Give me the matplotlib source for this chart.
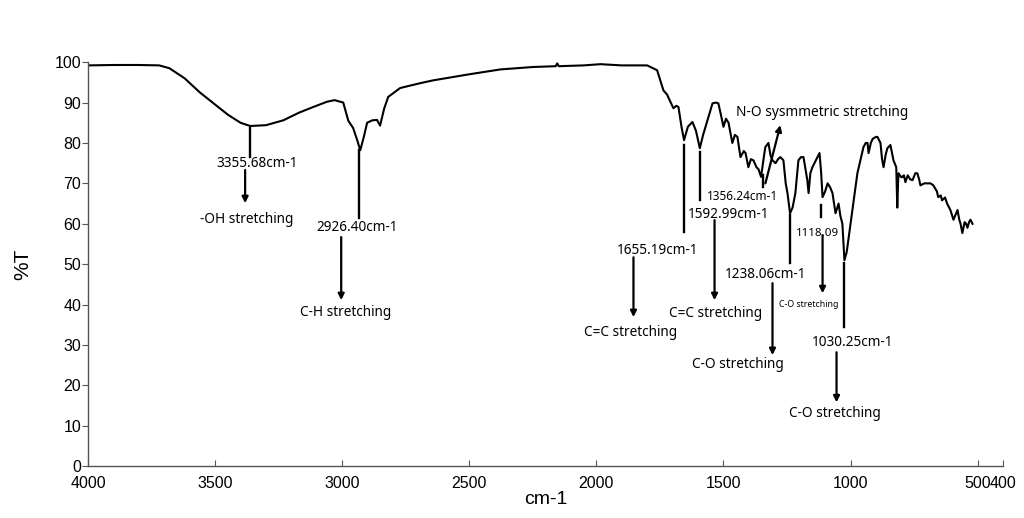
import numpy as np
import matplotlib
matplotlib.use("Agg")
from matplotlib import pyplot as plt

# FTIR spectrum, wavenumber (cm-1) vs transmittance (%T)
wavenumber = [4000, 3900, 3800, 3720, 3680, 3620, 3560, 3500, 3450, 3400,
              3362, 3300, 3232, 3170, 3114, 3060, 3030, 2996, 2976, 2957,
              2940, 2929, 2915, 2902, 2882, 2863, 2851, 2835, 2819, 2772,
              2693, 2642, 2500, 2378, 2250, 2160, 2154, 2148, 2050, 1984,
              1900, 1800, 1761, 1736, 1722, 1697, 1685, 1677, 1665, 1655,
              1640, 1622, 1608, 1593, 1580, 1563, 1543, 1530, 1520, 1510,
              1500, 1490, 1480, 1465, 1455, 1445, 1433, 1420, 1413, 1402,
              1392, 1382, 1370, 1362, 1352, 1340, 1335, 1323, 1315, 1307,
              1295, 1285, 1276, 1264, 1255, 1248, 1238, 1228, 1217, 1205,
              1195, 1185, 1170, 1165, 1158, 1150, 1130, 1122, 1116, 1110,
              1100, 1090, 1080, 1071, 1059, 1047, 1040, 1032, 1024, 1015,
              1000, 985, 973, 960, 949, 940, 933, 929, 920, 913,
              900, 894, 882, 876, 870, 862, 855, 843, 831, 820,
              816, 813, 811, 800, 796, 790, 784, 775, 765, 756,
              745, 737, 730, 725, 710, 697, 685, 674, 660, 655,
              645, 640, 628, 620, 607, 595, 585, 579, 572, 567,
              560, 551, 545, 540, 533, 528, 520]
transmittance = [99.2, 99.3, 99.3, 99.2, 98.5, 96.0, 92.5, 89.5, 87.0, 85.0,
                 84.2, 84.4, 85.6, 87.5, 88.9, 90.2, 90.6, 90.0, 85.5, 83.7,
                 80.5, 78.2, 81.5, 85.0, 85.6, 85.7, 84.3, 88.5, 91.4, 93.6,
                 94.8, 95.5, 97.0, 98.2, 98.8, 99.0, 99.7, 99.0, 99.2, 99.5,
                 99.2, 99.2, 98.0, 93.0, 92.0, 88.6, 89.2, 88.9, 84.0, 80.7,
                 84.0, 85.2, 83.0, 78.7, 82.0, 85.6, 89.8, 90.0, 89.8, 87.0,
                 84.0, 86.0, 85.0, 80.0, 82.0, 81.5, 76.5, 78.0, 77.5, 74.0,
                 76.0, 75.7, 74.0, 73.5, 71.6, 77.0, 79.0, 80.0, 77.0, 75.7,
                 75.0, 76.0, 76.5, 75.7, 70.0, 67.6, 62.6, 64.0, 67.6, 75.7,
                 76.5, 76.5, 70.8, 67.6, 72.5, 74.0, 76.5, 77.5, 73.0, 66.6,
                 68.0, 70.0, 69.0, 67.6, 62.6, 65.0, 62.0, 60.0, 51.0, 53.0,
                 60.0, 67.0, 72.5, 76.0, 79.0, 80.0, 80.0, 77.5, 80.0, 81.0,
                 81.5, 81.5, 80.0, 76.0, 74.0, 77.0, 78.7, 79.5, 75.7, 74.0,
                 64.0, 70.0, 72.5, 71.5, 71.6, 72.0, 70.3, 72.0, 71.0, 70.8,
                 72.5, 72.5, 71.0, 69.5, 70.0, 70.0, 70.0, 69.5, 68.0, 66.6,
                 67.0, 65.8, 66.5, 65.0, 63.4, 61.0, 62.5, 63.4, 61.0, 60.0,
                 57.7, 60.4, 60.0, 59.0, 60.5, 61.0, 60.0]

x_ticks = [4000, 3500, 3000, 2500, 2000, 1500, 1000, 500, 400]
x_tick_labels = ["4000", "3500", "3000", "2500", "2000", "1500", "1000", "500", "400"]
y_ticks = [0, 10, 20, 30, 40, 50, 60, 70, 80, 90, 100]

# peak marks: (x, top, bottom) of the short drop line under each band
peak_lines = [(3362, 83.7, 76.5), (2933, 78.2, 61.4), (1657, 79.5, 57.9),
              (1591, 77.7, 65.8), (1346, 72.0, 69.0), (1240, 62.1, 50.2),
              (1118, 64.6, 61.6), (1024, 50.2, 34.4)]
# peak labels: (text, x, y, size)
peak_labels = [("3355.68cm-1", 3335, 75.0, 9.8), ("2926.40cm-1", 2941, 59.2, 9.8),
               ("1655.19cm-1", 1760, 53.5, 9.8), ("1592.99cm-1", 1480, 62.4, 9.8),
               ("1356.24cm-1", 1425, 66.8, 8.5), ("1238.06cm-1", 1335, 47.5, 9.8),
               ("1118.09", 1130, 57.7, 8.3), ("1030.25cm-1", 992, 30.7, 9.8)]
# assignment arrows: (x, y_start, y_end)
arrows = [(3382, 73.3, 65.1), (3004, 56.7, 41.1), (1854, 51.7, 36.9),
          (1535, 60.9, 41.1), (1307, 45.3, 27.5), (1110, 57.2, 42.8),
          (1055, 28.2, 15.8)]
# assignment text: (text, x, y, size)
assignments = [("-OH stretching", 3374, 61.1, 9.8), ("C-H stretching", 2988, 38.1, 9.8),
               ("C=C stretching", 1866, 33.2, 9.8), ("C=C stretching", 1531, 37.9, 9.8),
               ("C-O stretching", 1445, 25.2, 9.8), ("C-O stretching", 1165, 39.9, 6.3),
               ("C-O stretching", 1063, 13.1, 9.8)]
no_text = "N-O sysmmetric stretching"

fig = plt.figure(figsize=(10.24, 5.18), dpi=100)
ax = fig.add_axes([0.086, 0.1, 0.8935, 0.78])

ax.plot(wavenumber, transmittance, color="black", lw=1.5)

for x, y0, y1 in peak_lines:
    ax.plot([x, x], [y0, y1], color="black", lw=1.7)
for txt, x, y, s in peak_labels:
    ax.text(x, y, txt, ha="center", va="center", fontsize=s, family="Noto Sans")
for x, y0, y1 in arrows:
    ax.annotate("", xy=(x, y1), xytext=(x, y0),
                arrowprops=dict(arrowstyle="-|>", color="black", lw=1.6,
                                mutation_scale=9, shrinkA=0, shrinkB=0))
for txt, x, y, s in assignments:
    ax.text(x, y, txt, ha="center", va="center", fontsize=s, family="Noto Sans")

# slanted arrow for the N-O band
ax.annotate("", xy=(1276, 84.4), xytext=(1335, 70.0),
            arrowprops=dict(arrowstyle="-|>", color="black", lw=1.6,
                            mutation_scale=9, shrinkA=0, shrinkB=0))
ax.text(1110, 87.6, no_text, ha="center", va="center", fontsize=9.9, family="Noto Sans")

ax.set_xlim(4000, 400)
ax.set_ylim(0, 100)
ax.set_xticks(x_ticks)
ax.set_xticklabels(x_tick_labels)
ax.set_yticks(y_ticks)
ax.spines["top"].set_visible(False)
ax.spines["right"].set_visible(False)
for sp in ("left", "bottom"):
    ax.spines[sp].set_color("#555555")
    ax.spines[sp].set_linewidth(1.0)
ax.tick_params(axis="x", direction="in", length=4, pad=7, labelsize=11.5, color="#555555")
ax.tick_params(axis="y", direction="out", length=4, pad=1, labelsize=11.5, color="#555555")
for lab in ax.get_xticklabels() + ax.get_yticklabels():
    lab.set_family("Liberation Sans")
ax.set_xlabel("cm-1", fontsize=14, family="Liberation Sans", labelpad=0)
ax.set_ylabel("%T", fontsize=15, family="Liberation Sans", labelpad=16)

fig.savefig("out.png", dpi=100)
